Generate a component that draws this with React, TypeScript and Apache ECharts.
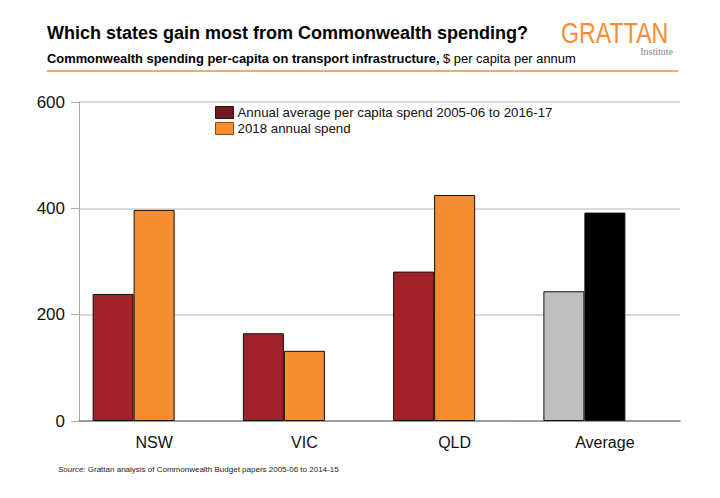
import { useEffect, useRef } from 'react';
import * as echarts from 'echarts';

const categories = ['NSW', 'VIC', 'QLD', 'Average'];
const averageSpend = [239, 165, 281, 244];
const spend2018 = [397, 132, 425, 392];
const yTicks = [0, 200, 400, 600];

const RED = '#A3222A';
const ORANGE = '#F68D33';
const FONT = 'Liberation Sans, Arial, sans-serif';

export default function App() {
  const chartRef = useRef<HTMLDivElement | null>(null);

  useEffect(() => {
    if (!chartRef.current) return;
    const chart = echarts.init(chartRef.current, undefined, { renderer: 'svg' });

    const last = categories.length - 1;

    chart.setOption({
      animation: false,
      textStyle: { fontFamily: FONT },
      grid: { left: 79, right: 40, top: 102, bottom: 77 },
      legend: {
        left: 215,
        top: 106,
        padding: 0,
        orient: 'vertical',
        icon: 'rect',
        itemWidth: 18,
        itemHeight: 12,
        itemGap: 3,
        selectedMode: false,
        textStyle: { fontSize: 13.3, color: '#111', padding: [0, 0, 0, -1] },
        data: [
          {
            name: 'Annual average per capita spend 2005-06 to 2016-17',
            itemStyle: { color: '#6E1A1F', borderColor: '#3a0a0c', borderWidth: 1 },
          },
          {
            name: '2018 annual spend',
            itemStyle: { color: ORANGE, borderColor: '#8a4a10', borderWidth: 1 },
          },
        ],
      },
      xAxis: {
        type: 'category',
        data: categories,
        axisLine: { lineStyle: { color: '#888', width: 1.5 } },
        axisTick: { show: false },
        axisLabel: { fontSize: 16, color: '#111', margin: 13 },
      },
      yAxis: {
        type: 'value',
        min: yTicks[0],
        max: yTicks[yTicks.length - 1],
        interval: 200,
        axisLine: { show: true, lineStyle: { color: '#aaa' } },
        axisTick: { show: true, length: 8, lineStyle: { color: '#aaa' } },
        axisLabel: { fontSize: 17, color: '#111', margin: 14 },
        splitLine: { lineStyle: { color: '#ccc', width: 1.5 } },
      },
      series: [
        {
          name: 'Annual average per capita spend 2005-06 to 2016-17',
          type: 'bar',
          barWidth: 41,
          barGap: '0%',
          data: averageSpend.map((v, i) =>
            i === last ? { value: v, itemStyle: { color: '#BFBFBF' } } : v,
          ),
          itemStyle: { color: RED, borderColor: '#111', borderWidth: 1 },
        },
        {
          name: '2018 annual spend',
          type: 'bar',
          barWidth: 41,
          barGap: '0%',
          data: spend2018.map((v, i) =>
            i === last ? { value: v, itemStyle: { color: '#000' } } : v,
          ),
          itemStyle: { color: ORANGE, borderColor: '#111', borderWidth: 1 },
        },
        {
          // empty slot, keeps the pairs left of the category centre as in the original
          name: 'spacer',
          type: 'bar',
          barWidth: 41,
          barGap: '0%',
          data: categories.map(() => null),
        },
      ],
      graphic: [
        {
          type: 'text',
          left: 47,
          top: 24,
          style: {
            text: 'Which states gain most from Commonwealth spending?',
            font: `bold 18px ${FONT}`,
            fill: '#000',
          },
        },
        {
          type: 'text',
          left: 47,
          top: 52,
          style: {
            text: '{b|Commonwealth spending per-capita on transport infrastructure,}{n| $ per capita per annum}',
            rich: {
              b: { fontWeight: 'bold', fontSize: 12.9, fontFamily: FONT, fill: '#000' },
              n: { fontSize: 12.9, fontFamily: FONT, fill: '#000' },
            },
          },
        },
        {
          type: 'line',
          shape: { x1: 47, y1: 71, x2: 678, y2: 71 },
          style: { stroke: ORANGE, lineWidth: 1.5 },
        },
        {
          type: 'text',
          x: 561,
          y: 19,
          scaleX: 0.8,
          style: {
            text: 'GRATTAN',
            font: `normal 29px ${FONT}`,
            fill: ORANGE,
          },
        },
        {
          type: 'text',
          x: 673,
          y: 46,
          style: {
            text: 'Institute',
            font: '10px "Liberation Serif", serif',
            fill: '#888',
            align: 'right',
          },
        },
        {
          type: 'text',
          left: 58,
          top: 465,
          style: {
            text: '{i|Source:}{n| Grattan analysis of Commonwealth Budget papers 2005-06 to 2014-15}',
            rich: {
              i: { fontStyle: 'italic', fontSize: 8, fontFamily: FONT, fill: '#222' },
              n: { fontSize: 8, fontFamily: FONT, fill: '#222' },
            },
          },
        },
      ],
    });

    return () => chart.dispose();
  }, []);

  return (
    <div
      ref={chartRef}
      style={{ position: 'fixed', left: 0, top: 0, width: 720, height: 498, background: '#fff' }}
    />
  );
}
